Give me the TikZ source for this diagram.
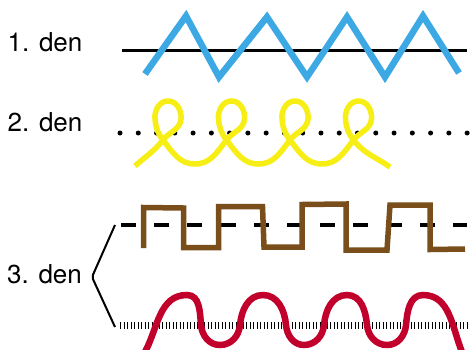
\documentclass[tikz,border=0pt]{standalone}
\usepackage{fontspec}
\setmainfont{TeX Gyre Heros}
\usetikzlibrary{positioning}
\definecolor{zigblue}{RGB}{60,168,228}
\definecolor{curlyellow}{RGB}{246,238,20}
\definecolor{stepbrown}{RGB}{122,78,26}
\definecolor{wavered}{RGB}{194,0,44}

\begin{document}
\begin{tikzpicture}[x=1pt, y=1pt,
  label/.style={anchor=base west, inner sep=0pt, font=\fontsize{26}{30}\selectfont},
  baseline/.style={line width=3pt},
  dotline/.style={line width=5pt, line cap=round, dash pattern=on 0pt off 18.27pt},
  dashline/.style={line width=4pt, dash pattern=on 15pt off 18.2pt},
  hatchline/.style={line width=7pt, dash pattern=on 1.2pt off 2.3pt},
  zig/.style={zigblue, line width=6.5pt, miter limit=10},
  curl/.style={curlyellow, line width=5.5pt},
  squarewave/.style={stepbrown, line width=5.5pt, miter limit=10},
  bump/.style={wavered, line width=6.5pt}]
  \useasboundingbox (0,0) rectangle (470,349);
  % labels
  \node[label] (den1) at (7.5,297.3) {1. den};
  \node[label] (den2) at (7.5,217.3) {2. den};
  \node[label] (den3) at (7,65.7) {3. den};
  % guide lines
  \coordinate (l1a) at (122,299); \coordinate (l1b) at (467,299);
  \coordinate (l2a) at (120,216); \coordinate (l2b) at (468,216);
  \coordinate (l3a) at (121,124.5); \coordinate (l3b) at (467,124.5);
  \coordinate (l4a) at (120,23.5); \coordinate (l4b) at (467,23.5);
  \draw[baseline] (l1a) -- (l1b);
  \draw[dotline] (l2a) -- (l2b);
  \draw[dashline] (l3a) -- (l3b);
  \draw[hatchline] (l4a) -- (l4b);
  % brace for 3. den
  \coordinate (tip) at (92,72);
  \draw[line width=2pt, rounded corners=2pt] (115,124) -- (tip) -- (115,22);
  % 1. den
  \draw[zig] (145,275) -- (186,333) -- (219,272) -- (267,332) -- (307,272)
    -- (347,332) -- (385,272) -- (423,333) -- (459,276);
  % 2. den
  \coordinate (s2) at (135,183); \coordinate (e2) at (390,182);
  \draw[curl] (s2) to[out=42,in=232] (163,209)
    \foreach \o in {0,63.5,127} {
      to[out=52,in=-95] ({181+\o},230) to[out=85,in=0] ({168+\o},248)
      to[out=180,in=95] ({155+\o},230) to[out=-85,in=128] ({163+\o},209)
      to[out=-52,in=180] ({195+\o},185) to[out=0,in=232] ({226.5+\o},209)}
    to[out=52,in=-95] (371.5,230) to[out=85,in=0] (358.5,248)
    to[out=180,in=95] (345.5,230) to[out=-85,in=128] (353.5,209)
    to[out=-52,in=145] (e2);
  % 3. den
  \draw[squarewave] (143.5,101) -- (143.5,141.5) -- (183.5,141) -- (183.5,101.5)
    -- (218.5,101.5) -- (218.5,142.5) -- (262.5,142.5) -- (264,102) -- (302,102)
    -- (302,144.5) -- (346,145) -- (346,99) -- (387,99) -- (390,144) -- (430,144)
    -- (430,99.5) -- (465,100);
  \draw[bump] (145,-3) to[out=62,in=180] (187,54) to[out=0,in=95] (201,24)
    to[out=-85,in=180] (220,4) to[out=0,in=-95] (240,24)
    to[out=85,in=180] (263,54) to[out=0,in=95] (286,24)
    to[out=-85,in=180] (304,4) to[out=0,in=-95] (324,24)
    to[out=85,in=180] (347,54) to[out=0,in=95] (367,24)
    to[out=-85,in=180] (387,4) to[out=0,in=-95] (406,24)
    to[out=85,in=180] (423,54) to[out=0,in=112] (462,-3);
\end{tikzpicture}
\end{document}
